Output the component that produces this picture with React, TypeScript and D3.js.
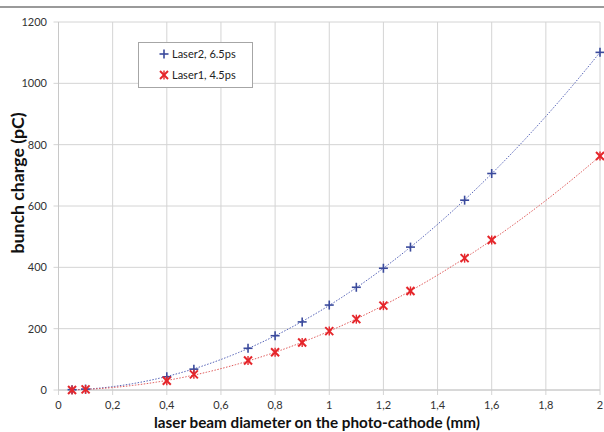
import React from "react";
import * as d3 from "d3";

const xValues = [0.05, 0.1, 0.4, 0.5, 0.7, 0.8, 0.9, 1.0, 1.1, 1.2, 1.3, 1.5, 1.6, 2.0];
const laser2 = [1, 3, 43, 68, 136, 177, 222, 277, 335, 397, 466, 619, 706, 1101];
const laser1 = [0, 2, 30, 51, 96, 123, 155, 192, 231, 275, 323, 430, 489, 763];
const xTicks = [0, 0.2, 0.4, 0.6, 0.8, 1, 1.2, 1.4, 1.6, 1.8, 2];
const yTicks = [0, 200, 400, 600, 800, 1000, 1200];
const seriesNames = ["Laser2, 6.5ps", "Laser1, 4.5ps"];

function quadFit(xs: number[], ys: number[]) {
  let s0 = 0, s1 = 0, s2 = 0, s3 = 0, s4 = 0, t0 = 0, t1 = 0, t2 = 0;
  xs.forEach((x, i) => {
    const y = ys[i];
    s0 += 1; s1 += x; s2 += x * x; s3 += x ** 3; s4 += x ** 4;
    t0 += y; t1 += x * y; t2 += x * x * y;
  });
  const M = [[s0, s1, s2, t0], [s1, s2, s3, t1], [s2, s3, s4, t2]];
  for (let i = 0; i < 3; i++) {
    for (let j = i + 1; j < 3; j++) {
      const f = M[j][i] / M[i][i];
      for (let k = i; k < 4; k++) M[j][k] -= f * M[i][k];
    }
  }
  const r = [0, 0, 0];
  for (let i = 2; i >= 0; i--) {
    let s = M[i][3];
    for (let k = i + 1; k < 3; k++) s -= M[i][k] * r[k];
    r[i] = s / M[i][i];
  }
  return (x: number) => r[0] + r[1] * x + r[2] * x * x;
}

const fmt = (v: number) => String(v).replace(".", ",");

export default function App() {
  const W = 604, H = 432;
  const x = d3.scaleLinear().domain([0, 2]).range([58.5, 600]);
  const y = d3.scaleLinear().domain([0, 1200]).range([390, 22]);
  const font = "Lato, 'Open Sans', sans-serif";
  const blue = "#3a4a9c";
  const red = "#e5262b";

  const trend = (vals: number[]) => {
    const f = quadFit(xValues, vals);
    const x0 = xValues[0], x1 = xValues[xValues.length - 1];
    const xs = d3.range(0, 201).map((i) => x0 + (i / 200) * (x1 - x0));
    return d3.line<number>().x((d) => x(d)).y((d) => y(Math.max(0, f(d))))(xs) || "";
  };

  const plus = (cx: number, cy: number, key: string) => (
    <g key={key} stroke={blue} strokeWidth={1.6}>
      <line x1={cx - 4.5} x2={cx + 4.5} y1={cy} y2={cy} />
      <line x1={cx} x2={cx} y1={cy - 4.5} y2={cy + 4.5} />
    </g>
  );
  const star = (cx: number, cy: number, key: string) => (
    <g key={key} stroke={red} strokeWidth={2}>
      <line x1={cx - 4} x2={cx + 4} y1={cy - 4} y2={cy + 4} />
      <line x1={cx - 4} x2={cx + 4} y1={cy + 4} y2={cy - 4} />
      <line x1={cx} x2={cx} y1={cy - 4.5} y2={cy + 4.5} strokeWidth={1.4} />
    </g>
  );

  return (
    <svg width={W} height={H} style={{ position: "absolute", left: 0, top: 0, background: "#fff" }}>
      <rect x={0} y={0} width={W} height={H} fill="#fff" />
      <line x1={0} x2={W} y1={7} y2={7} stroke="#9a9a9a" strokeWidth={2} />
      {xTicks.map((t) => (
        <line key={"gx" + t} x1={x(t)} x2={x(t)} y1={y(1200)} y2={y(0) + 5} stroke="#d4d4d4" strokeWidth={1} />
      ))}
      {yTicks.map((t) => (
        <line key={"gy" + t} x1={x(0) - 5} x2={x(2)} y1={y(t)} y2={y(t)} stroke="#d4d4d4" strokeWidth={1} />
      ))}
      <line x1={x(0)} x2={x(0)} y1={y(1200)} y2={y(0)} stroke="#c8c8c8" />
      <line x1={x(0)} x2={x(2)} y1={y(0)} y2={y(0)} stroke="#c8c8c8" />
      {yTicks.map((t) => (
        <text key={"ly" + t} x={47} y={y(t) + 4} textAnchor="end" fontSize={11} fontFamily={font} fill="#333">
          {t}
        </text>
      ))}
      {xTicks.map((t) => (
        <text key={"lx" + t} x={x(t)} y={409} textAnchor="middle" fontSize={11} fontFamily={font} fill="#333">
          {fmt(t)}
        </text>
      ))}
      <path d={trend(laser2)} fill="none" stroke="#5563b8" strokeWidth={1} strokeDasharray="1.5,1.5" />
      <path d={trend(laser1)} fill="none" stroke="#e05a5a" strokeWidth={1} strokeDasharray="1.5,1.5" />
      {laser2.map((v, i) => plus(x(xValues[i]), y(v), "b" + i))}
      {laser1.map((v, i) => star(x(xValues[i]), y(v), "r" + i))}
      <rect x={138.5} y={42.5} width={114} height={45} fill="#fff" stroke="#a6a6a6" />
      {plus(164, 54, "lg1")}
      <text x={172} y={58} fontSize={11} fontFamily={font} fill="#222">{seriesNames[0]}</text>
      {star(164, 75, "lg2")}
      <text x={172} y={79} fontSize={11} fontFamily={font} fill="#222">{seriesNames[1]}</text>
      <text x={317} y={428} textAnchor="middle" fontSize={16} fontWeight="bold" fontFamily={font} fill="#111"
        textLength={326} lengthAdjust="spacingAndGlyphs">
        laser beam diameter on the photo-cathode (mm)
      </text>
      <text transform="translate(24,183) rotate(-90)" textAnchor="middle" fontSize={17} fontWeight="bold" fontFamily={font}
        fill="#111" textLength={141} lengthAdjust="spacingAndGlyphs">
        bunch charge (pC)
      </text>
    </svg>
  );
}
